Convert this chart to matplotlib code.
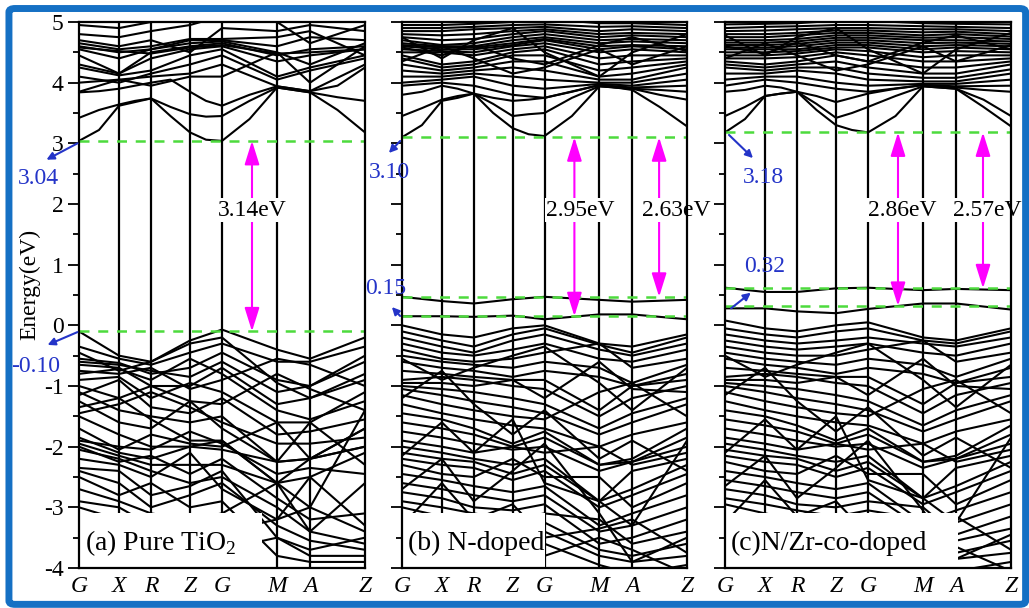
import numpy as np
import matplotlib
matplotlib.use('Agg')
import matplotlib.pyplot as plt
from matplotlib.patches import Rectangle, FancyBboxPatch, FancyArrowPatch

plt.rcParams['font.family'] = ['Liberation Serif', 'DejaVu Serif']
plt.rcParams['mathtext.fontset'] = 'custom'
plt.rcParams['mathtext.rm'] = 'Liberation Serif'
plt.rcParams['axes.unicode_minus'] = False

# k-path (G X R Z G M A Z), distances along the path
kpath = np.array([0, 40, 72, 111, 143, 198, 231, 286], dtype=float)
klabels = ['G', 'X', 'R', 'Z', 'G', 'M', 'A', 'Z']

# ---------------- (a) pure TiO2 ----------------
a_cb = [
    [3.04, 3.22, 3.62, 3.68, 3.74, 3.45, 3.18, 3.06, 3.04, 3.40, 3.92, 3.88, 3.84, 3.55, 3.18],
    [3.42, 3.55, 3.64, 3.70, 3.74, 3.60, 3.48, 3.44, 3.45, 3.70, 3.92, 3.88, 3.84, 3.76, 3.70],
    [3.84, 3.86, 3.90, 3.95, 4.00, 4.05, 3.85, 3.70, 3.62, 3.80, 3.94, 3.90, 3.86, 3.95, 4.25],
    [4.00, 4.05, 4.10, 4.15, 4.30, 3.94, 3.86, 4.30],
    [4.10, 4.00, 4.15, 4.30, 4.45, 4.05, 4.20, 4.40],
    [4.25, 4.12, 4.20, 4.45, 4.55, 4.10, 4.25, 4.45],
    [4.30, 4.15, 4.40, 4.55, 4.60, 4.35, 4.45, 4.55],
    [4.45, 4.15, 4.50, 4.60, 4.65, 4.45, 4.55, 4.60],
    [4.55, 4.40, 4.55, 4.65, 4.68, 4.50, 4.30, 4.65],
    [4.60, 4.50, 4.55, 4.70, 4.70, 4.60, 4.75, 4.70],
    [4.65, 4.55, 4.60, 4.72, 4.72, 4.75, 4.85, 4.45],
    [4.70, 4.60, 4.70, 4.50, 4.90, 4.85, 4.95, 4.85],
    [4.80, 4.75, 4.85, 4.95, 5.10, 5.00, 4.65, 4.95],
    [4.95, 4.90, 5.00, 5.10, 5.20, 5.10, 5.20, 5.10],
    [3.85, 4.05, 3.95, 4.10, 4.10, 4.50, 4.00, 4.60],
    [4.58, 4.52, 4.48, 4.58, 4.62, 4.48, 4.50, 4.55],
]
a_vb = [
    [-0.10, -0.50, -0.60, -0.25, -0.07, -0.40, -0.55, -0.20],
    [-0.35, -0.55, -0.65, -0.45, -0.30, -0.60, -0.60, -0.35],
    [-0.55, -0.62, -0.80, -0.70, -0.45, -0.90, -1.00, -0.50],
    [-0.65, -0.70, -1.00, -1.00, -0.70, -1.30, -1.20, -0.80],
    [-0.75, -0.80, -0.70, -1.05, -0.90, -0.55, -0.65, -1.00],
    [-0.90, -0.85, -1.20, -0.95, -1.10, -1.60, -1.60, -1.10],
    [-1.00, -1.20, -1.00, -1.25, -1.30, -0.80, -1.05, -1.40],
    [-1.10, -1.40, -1.50, -1.60, -1.50, -2.25, -2.20, -1.70],
    [-1.25, -1.60, -1.70, -1.25, -1.70, -2.25, -2.20, -2.00],
    [-1.35, -1.20, -1.55, -1.90, -1.90, -2.60, -2.50, -2.10],
    [-1.50, -1.80, -2.00, -2.00, -1.90, -2.60, -3.00, -1.40],
    [-1.70, -2.05, -1.80, -1.95, -2.00, -1.60, -2.20, -2.00],
    [-1.85, -2.10, -2.20, -2.00, -2.05, -2.25, -1.60, -2.30],
    [-1.95, -2.15, -2.30, -2.30, -2.30, -2.60, -2.20, -1.70],
    [-2.05, -2.20, -2.40, -2.60, -2.50, -3.00, -3.40, -2.60],
    [-2.20, -2.30, -2.50, -2.10, -2.70, -3.20, -2.50, -3.30],
    [-2.35, -2.40, -2.80, -2.65, -2.40, -3.50, -3.70, -3.50],
    [-2.50, -2.80, -2.60, -3.00, -2.90, -3.80, -3.90, -3.90],
    [-2.70, -2.90, -3.10, -3.20, -3.10, -2.60, -3.40, -3.60],
    [-2.90, -3.00, -3.30, -3.50, -3.40, -3.20, -3.00, -3.40],
    [-3.00, -3.20, -3.50, -3.80, -3.70, -3.50, -3.80, -3.80],
    [-0.45, -0.75, -0.60, -0.30, -0.20, -0.95, -1.20, -0.90],
    [-0.60, -0.65, -0.75, -0.85, -0.60, -1.10, -1.00, -0.60],
    [-0.80, -0.72, -0.90, -0.55, -0.80, -1.40, -1.55, -1.25],
    [-1.15, -0.90, -1.35, -1.45, -1.20, -1.80, -1.75, -1.55],
    [-1.45, -1.30, -1.10, -1.35, -1.60, -1.95, -1.95, -1.85],
    [-1.90, -2.00, -2.05, -1.75, -1.95, -2.45, -2.35, -2.45],
    [-2.00, -2.25, -2.15, -2.45, -2.20, -2.85, -3.20, -3.10],
    [-2.40, -2.60, -3.00, -2.80, -2.60, -3.30, -3.55, -3.70],
]

# ---------------- (b) N-doped ----------------
b_cb = [
    [3.10, 3.30, 3.70, 3.75, 3.82, 3.50, 3.25, 3.15, 3.12, 3.45, 3.94, 3.92, 3.88, 3.60, 3.28],
    [3.45, 3.58, 3.72, 3.78, 3.82, 3.65, 3.45, 3.48, 3.50, 3.75, 3.94, 3.92, 3.90, 3.80, 3.72],
    [3.80, 3.85, 3.95, 3.90, 3.82, 3.75, 3.70, 3.72, 3.75, 3.85, 3.96, 3.92, 3.90, 3.88, 3.85],
    [3.95, 4.00, 3.95, 3.80, 3.75, 3.96, 3.92, 3.95],
    [4.00, 4.05, 4.10, 3.95, 3.90, 3.98, 3.95, 4.05],
    [4.10, 4.10, 4.15, 4.10, 4.05, 4.00, 4.00, 4.15],
    [4.20, 4.15, 4.20, 4.25, 4.20, 4.05, 4.05, 4.25],
    [4.30, 4.20, 4.25, 4.35, 4.35, 4.10, 4.15, 4.30],
    [4.40, 4.25, 4.30, 4.45, 4.45, 4.20, 4.25, 4.35],
    [4.45, 4.30, 4.35, 4.50, 4.55, 4.30, 4.35, 4.40],
    [4.50, 4.50, 4.45, 4.55, 4.60, 4.40, 4.45, 4.45],
    [4.55, 4.52, 4.50, 4.60, 4.65, 4.50, 4.55, 4.50],
    [4.60, 4.55, 4.55, 4.62, 4.70, 4.55, 4.60, 4.55],
    [4.62, 4.58, 4.58, 4.65, 4.72, 4.60, 4.62, 4.60],
    [4.65, 4.60, 4.60, 4.70, 4.75, 4.65, 4.68, 4.65],
    [4.70, 4.62, 4.65, 4.75, 4.80, 4.70, 4.72, 4.70],
    [4.75, 4.70, 4.72, 4.80, 4.85, 4.75, 4.78, 4.75],
    [4.80, 4.78, 4.80, 4.85, 4.88, 4.80, 4.82, 4.80],
    [4.85, 4.85, 4.88, 4.90, 4.92, 4.85, 4.88, 4.85],
    [4.90, 4.90, 4.92, 4.95, 4.96, 4.92, 4.93, 4.90],
    [4.95, 4.95, 4.97, 5.00, 5.05, 4.98, 4.98, 4.95],
    [4.35, 4.60, 4.40, 4.15, 4.25, 4.55, 4.30, 4.60],
    [4.75, 4.40, 4.70, 4.90, 4.50, 4.10, 4.50, 4.80],
    [4.58, 4.45, 4.62, 4.40, 4.30, 4.62, 4.75, 4.52],
]
b_imp = [
    [0.47, 0.40, 0.36, 0.43, 0.47, 0.42, 0.39, 0.42],
    [0.15, 0.15, 0.14, 0.16, 0.10, 0.18, 0.18, 0.10],
]
b_vb = [
    [0.00, -0.15, -0.20, -0.05, 0.00, -0.30, -0.35, -0.15],
    [-0.10, -0.25, -0.35, -0.15, -0.05, -0.32, -0.45, -0.20],
    [-0.20, -0.35, -0.45, -0.25, -0.15, -0.40, -0.50, -0.30],
    [-0.30, -0.45, -0.50, -0.40, -0.30, -0.55, -0.60, -0.40],
    [-0.40, -0.55, -0.60, -0.55, -0.45, -0.30, -0.70, -0.55],
    [-0.50, -0.60, -0.65, -0.70, -0.60, -0.70, -0.95, -0.65],
    [-0.60, -0.70, -0.75, -0.85, -0.75, -0.85, -1.00, -0.80],
    [-0.75, -0.80, -0.85, -0.90, -0.90, -1.40, -1.00, -0.90],
    [-0.90, -0.85, -0.90, -1.00, -1.05, -1.50, -1.20, -1.00],
    [-0.95, -0.95, -1.00, -0.90, -1.20, -0.60, -1.05, -1.10],
    [-1.00, -1.05, -1.10, -1.20, -1.30, -1.70, -1.45, -1.20],
    [-1.05, -1.15, -1.25, -1.35, -1.45, -1.80, -1.60, -1.30],
    [-1.15, -1.30, -1.40, -1.50, -1.55, -1.10, -0.95, -1.50],
    [-1.30, -1.45, -1.55, -1.65, -1.70, -2.00, -1.80, -1.60],
    [-1.45, -1.55, -1.70, -1.95, -1.75, -2.30, -2.20, -1.70],
    [-1.60, -1.70, -1.80, -2.00, -1.85, -2.30, -2.25, -1.85],
    [-1.75, -1.85, -1.95, -2.05, -2.00, -2.40, -2.25, -2.00],
    [-1.90, -2.00, -2.10, -2.00, -2.10, -2.00, -2.30, -2.10],
    [-2.00, -2.10, -2.20, -2.30, -2.20, -2.90, -2.40, -2.20],
    [-2.10, -2.20, -2.25, -2.45, -2.30, -2.90, -2.70, -2.30],
    [-2.20, -2.30, -2.35, -2.55, -2.40, -3.00, -2.80, -2.45],
    [-2.30, -2.45, -2.50, -2.20, -2.50, -2.50, -3.00, -2.60],
    [-2.45, -2.55, -2.65, -2.75, -2.65, -3.30, -3.10, -2.80],
    [-2.60, -2.70, -2.80, -2.90, -2.80, -3.40, -3.30, -3.00],
    [-2.75, -2.85, -3.00, -3.05, -2.95, -3.60, -3.50, -3.20],
    [-2.90, -3.00, -3.10, -3.20, -3.10, -3.20, -3.60, -3.40],
    [-3.00, -3.15, -3.25, -3.35, -3.25, -3.70, -3.80, -3.60],
    [-3.20, -3.30, -3.40, -3.50, -3.40, -3.80, -3.90, -3.80],
    [-3.40, -3.50, -3.60, -3.70, -3.60, -3.95, -4.10, -3.95],
    [-3.60, -3.70, -3.80, -3.90, -3.80, -3.50, -3.70, -4.10],
    [-0.55, -0.90, -0.70, -0.50, -0.35, -0.95, -1.40, -0.70],
    [-1.20, -0.75, -1.30, -1.80, -1.40, -2.20, -1.90, -2.40],
    [-2.15, -1.60, -2.10, -1.55, -2.60, -2.90, -3.30, -1.90],
    [-2.70, -2.20, -2.90, -2.40, -1.95, -3.10, -3.90, -3.50],
    [-3.30, -2.60, -3.20, -2.95, -3.50, -3.35, -3.20, -3.75],
]

# ---------------- (c) N/Zr co-doped ----------------
c_cb = [
    [3.18, 3.40, 3.78, 3.82, 3.85, 3.55, 3.30, 3.22, 3.18, 3.45, 3.94, 3.92, 3.90, 3.60, 3.28],
    [3.45, 3.60, 3.78, 3.82, 3.85, 3.65, 3.42, 3.50, 3.60, 3.78, 3.94, 3.92, 3.90, 3.72, 3.45],
    [3.85, 3.88, 3.95, 3.92, 3.85, 3.78, 3.68, 3.75, 3.82, 3.90, 3.96, 3.94, 3.92, 3.88, 3.85],
    [3.95, 4.05, 4.00, 3.90, 3.85, 3.96, 3.94, 3.95],
    [4.05, 4.10, 4.10, 4.00, 3.95, 3.98, 3.98, 4.05],
    [4.15, 4.15, 4.20, 4.15, 4.05, 4.02, 4.02, 4.15],
    [4.25, 4.20, 4.25, 4.25, 4.15, 4.08, 4.08, 4.22],
    [4.30, 4.25, 4.30, 4.35, 4.25, 4.15, 4.15, 4.30],
    [4.35, 4.30, 4.35, 4.45, 4.35, 4.25, 4.25, 4.35],
    [4.40, 4.40, 4.42, 4.50, 4.45, 4.35, 4.35, 4.40],
    [4.45, 4.45, 4.48, 4.55, 4.52, 4.42, 4.45, 4.45],
    [4.50, 4.50, 4.52, 4.58, 4.58, 4.50, 4.52, 4.50],
    [4.55, 4.55, 4.55, 4.62, 4.62, 4.55, 4.58, 4.55],
    [4.58, 4.58, 4.60, 4.66, 4.66, 4.60, 4.62, 4.60],
    [4.62, 4.62, 4.64, 4.70, 4.70, 4.65, 4.66, 4.64],
    [4.66, 4.66, 4.68, 4.74, 4.74, 4.70, 4.70, 4.68],
    [4.70, 4.70, 4.72, 4.78, 4.78, 4.74, 4.75, 4.72],
    [4.75, 4.75, 4.78, 4.82, 4.82, 4.78, 4.80, 4.76],
    [4.80, 4.80, 4.82, 4.86, 4.86, 4.83, 4.84, 4.80],
    [4.85, 4.86, 4.88, 4.90, 4.90, 4.88, 4.88, 4.85],
    [4.90, 4.92, 4.93, 4.95, 4.95, 4.93, 4.92, 4.90],
    [4.96, 4.97, 4.98, 5.02, 5.02, 4.98, 4.97, 4.96],
    [4.40, 4.65, 4.45, 4.20, 4.30, 4.60, 4.35, 4.62],
    [4.78, 4.45, 4.75, 4.90, 4.55, 4.15, 4.55, 4.82],
    [4.60, 4.48, 4.66, 4.45, 4.35, 4.66, 4.78, 4.55],
]
c_imp = [
    [0.62, 0.55, 0.55, 0.61, 0.62, 0.58, 0.60, 0.58],
    [0.28, 0.28, 0.23, 0.20, 0.27, 0.36, 0.36, 0.26],
]
c_vb = [
    [0.08, -0.05, -0.10, 0.00, 0.05, -0.20, -0.25, -0.05],
    [-0.05, -0.15, -0.20, -0.10, -0.05, -0.25, -0.30, -0.10],
    [-0.15, -0.25, -0.30, -0.25, -0.20, -0.30, -0.35, -0.20],
    [-0.25, -0.35, -0.40, -0.35, -0.30, -0.45, -0.50, -0.30],
    [-0.35, -0.45, -0.50, -0.50, -0.40, -0.25, -0.60, -0.45],
    [-0.45, -0.55, -0.60, -0.65, -0.55, -0.65, -0.85, -0.55],
    [-0.55, -0.65, -0.70, -0.80, -0.70, -0.80, -0.95, -0.70],
    [-0.70, -0.75, -0.80, -0.85, -0.85, -1.30, -0.95, -0.85],
    [-0.85, -0.80, -0.85, -0.95, -1.00, -1.45, -1.15, -0.95],
    [-0.90, -0.90, -0.95, -0.85, -1.15, -0.55, -1.00, -1.05],
    [-0.95, -1.00, -1.05, -1.15, -1.25, -1.65, -1.40, -1.15],
    [-1.00, -1.10, -1.20, -1.30, -1.40, -1.75, -1.55, -1.25],
    [-1.10, -1.25, -1.35, -1.45, -1.50, -1.05, -0.90, -1.45],
    [-1.25, -1.40, -1.50, -1.60, -1.65, -1.95, -1.75, -1.55],
    [-1.40, -1.50, -1.65, -1.90, -1.70, -2.25, -2.15, -1.65],
    [-1.55, -1.65, -1.75, -1.95, -1.80, -2.25, -2.20, -1.80],
    [-1.70, -1.80, -1.90, -2.00, -1.95, -2.35, -2.20, -1.95],
    [-1.85, -1.95, -2.05, -1.95, -2.05, -1.95, -2.25, -2.05],
    [-1.95, -2.05, -2.15, -2.25, -2.15, -2.85, -2.35, -2.15],
    [-2.05, -2.15, -2.20, -2.40, -2.25, -2.85, -2.65, -2.25],
    [-2.15, -2.25, -2.30, -2.50, -2.35, -2.95, -2.75, -2.40],
    [-2.25, -2.40, -2.45, -2.15, -2.45, -2.45, -2.95, -2.55],
    [-2.40, -2.50, -2.60, -2.70, -2.60, -3.25, -3.05, -2.75],
    [-2.55, -2.65, -2.75, -2.85, -2.75, -3.35, -3.25, -2.95],
    [-2.70, -2.80, -2.95, -3.00, -2.90, -3.00, -3.45, -3.15],
    [-2.85, -2.95, -3.05, -3.15, -3.05, -3.20, -3.55, -3.35],
    [-2.95, -3.10, -3.20, -3.30, -3.20, -3.65, -3.75, -3.55],
    [-3.15, -3.25, -3.35, -3.45, -3.35, -3.75, -3.85, -3.75],
    [-3.35, -3.45, -3.55, -3.65, -3.55, -3.90, -4.05, -3.90],
    [-3.55, -3.65, -3.75, -3.85, -3.75, -3.45, -3.65, -4.05],
    [-0.50, -0.85, -0.65, -0.45, -0.30, -0.90, -1.35, -0.65],
    [-1.15, -0.70, -1.25, -1.75, -1.35, -2.15, -1.85, -2.35],
    [-2.10, -1.55, -2.05, -1.50, -2.55, -2.85, -3.25, -1.85],
    [-2.65, -2.15, -2.85, -2.35, -1.90, -3.05, -3.85, -3.45],
    [-3.25, -2.55, -3.15, -2.90, -3.45, -3.30, -3.15, -3.70],
]

# gap levels: CBM, impurity / VBM levels, gap values
a_levels = [3.04, -0.10]
b_levels = [3.10, 0.47, 0.15]
c_levels = [3.18, 0.61, 0.32]
a_gaps = ['3.14eV']
b_gaps = ['2.95eV', '2.63eV']
c_gaps = ['2.86eV', '2.57eV']

INK = 'black'
GREEN = '#4ddb3d'
MAG = '#ff00ff'
BLUE = '#2434c8'

fig = plt.figure(figsize=(10.29, 6.08), dpi=100)
W, H = 1029.0, 608.0

def px_axes(x0, x1, y0=22, y1=568):
    return fig.add_axes([x0 / W, 1 - y1 / H, (x1 - x0) / W, (y1 - y0) / H])

k15 = np.append(np.column_stack([kpath[:-1], (kpath[:-1] + kpath[1:]) / 2]).ravel(), kpath[-1])

def panel(ax, bands, show_labels):
    for b in bands:
        xs = kpath if len(b) == 8 else k15
        ax.plot(xs, b, color=INK, lw=1.5, zorder=2, solid_joinstyle='round')
    for k in kpath[1:-1]:
        ax.axvline(k, color=INK, lw=1.6, zorder=3)
    ax.set_xlim(kpath[0], kpath[-1])
    ax.set_ylim(-4, 5)
    ax.set_yticks(np.arange(-4, 6, 1))
    ax.set_yticks(np.arange(-3.5, 5, 1), minor=True)
    ax.tick_params(axis='y', which='major', direction='out', length=8, width=1.3,
                   labelsize=17, pad=3, labelleft=show_labels)
    ax.tick_params(axis='y', which='minor', direction='out', length=4, width=1.3)
    ax.set_xticks(kpath)
    ax.set_xticklabels(klabels, fontstyle='italic', fontsize=17)
    ax.tick_params(axis='x', length=0, pad=6)
    for s in ax.spines.values():
        s.set_linewidth(1.6)
        s.set_zorder(8)

def gap_arrow(ax, x, top, bot, label, tx):
    ax.annotate('', xy=(x, bot), xytext=(x, top),
                arrowprops=dict(arrowstyle='<|-|>,head_length=0.8,head_width=0.25',
                                color=MAG, lw=1.5, mutation_scale=18,
                                shrinkA=0, shrinkB=0), zorder=6)
    ax.text(tx, 1.90, label, ha='center', va='center', fontsize=17,
            zorder=7, clip_on=False,
            bbox=dict(fc='white', ec='none', pad=1.0))

def label_box(ax, w, text):
    ax.add_patch(Rectangle((0, 0), w, 0.1, transform=ax.transAxes, fc='white',
                           ec='none', zorder=5))
    ax.text(0.02, 0.045, text, transform=ax.transAxes, fontsize=20,
            va='center', ha='left', zorder=6)

axa = px_axes(79, 365)
panel(axa, a_cb + a_vb, True)
axa.set_ylabel('Energy(eV)', fontsize=17)
axa.yaxis.set_label_coords(-0.135, 0.52)
for y in a_levels:
    axa.axhline(y, color=GREEN, lw=1.8, ls=(0, (4, 3.5)), zorder=4)
gap_arrow(axa, 173, a_levels[0], a_levels[1], a_gaps[0], 173)
label_box(axa, 0.64, r'(a) Pure TiO$_\mathrm{2}$')

axb = px_axes(402, 687)
panel(axb, b_cb + b_imp + b_vb, False)
for y in b_levels:
    axb.axhline(y, color=GREEN, lw=1.8, ls=(0, (4, 3.5)), zorder=4)
gap_arrow(axb, 173, b_levels[0], b_levels[2], b_gaps[0], 179)
gap_arrow(axb, 258, b_levels[0], b_levels[1], b_gaps[1], 275)
label_box(axb, 0.50, '(b) N-doped')

axc = px_axes(725, 1011)
panel(axc, c_cb + c_imp + c_vb, False)
for y in c_levels:
    axc.axhline(y, color=GREEN, lw=1.8, ls=(0, (4, 3.5)), zorder=4)
gap_arrow(axc, 173, c_levels[0], c_levels[2], c_gaps[0], 177)
gap_arrow(axc, 258, c_levels[0], c_levels[1], c_gaps[1], 262)
label_box(axc, 0.815, '(c)N/Zr-co-doped')

# blue value annotations (image pixel coordinates)
def blue_note(tail, head, text, tpos):
    fig.add_artist(FancyArrowPatch(
        (tail[0] / W, 1 - tail[1] / H), (head[0] / W, 1 - head[1] / H),
        transform=fig.transFigure, arrowstyle='-|>', mutation_scale=11,
        color=BLUE, lw=1.5, zorder=10))
    fig.text(tpos[0] / W, 1 - tpos[1] / H, text, color=BLUE, fontsize=17,
             ha='center', va='center', zorder=10)

blue_note((80, 142), (44, 161), '3.04', (38, 178))
blue_note((80, 331), (45, 346), '-0.10', (36, 366))
blue_note((402, 139), (387, 155), '3.10', (389, 172))
blue_note((402, 318), (390, 305), '0.15', (386, 289))
blue_note((727, 133), (755, 160), '3.18', (763, 177))
blue_note((729, 310), (753, 291), '0.32', (765, 267))

fig.add_artist(FancyBboxPatch((0.0087, 0.006), 0.988, 0.98,
                              boxstyle='round,pad=0,rounding_size=0.006',
                              transform=fig.transFigure, fill=False,
                              ec='#1570c4', lw=5, zorder=20))

fig.savefig('out.png', dpi=100, facecolor='white')
